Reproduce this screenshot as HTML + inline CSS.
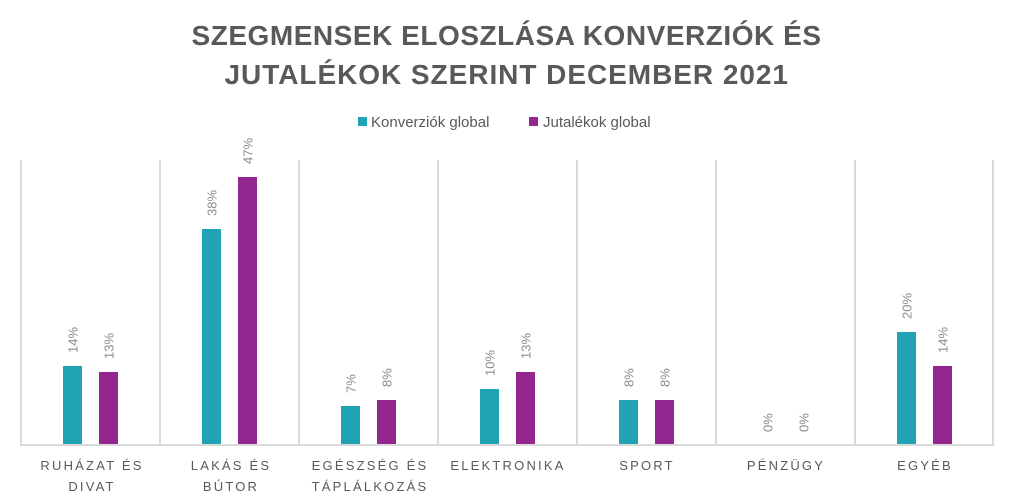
<!DOCTYPE html>
<html><head><meta charset="utf-8"><style>
html,body{margin:0;padding:0;background:#fff;}
svg{display:block;font-family:"Liberation Sans",sans-serif;}
</style></head><body>
<svg width="1014" height="502" viewBox="0 0 1014 502">
<g font-weight="bold" font-size="28" fill="#595959" text-anchor="middle" letter-spacing="1.5">
<text x="507" y="45" textLength="631" lengthAdjust="spacing">SZEGMENSEK ELOSZLÁSA KONVERZIÓK ÉS</text>
<text x="507" y="84" textLength="565" lengthAdjust="spacing">JUTALÉKOK SZERINT DECEMBER 2021</text>
</g>
<rect x="358" y="117" width="9" height="9" fill="#20a3b2"/>
<text x="371" y="127" font-size="15" fill="#595959">Konverziók global</text>
<rect x="529" y="117" width="9" height="9" fill="#93278f"/>
<text x="543" y="127" font-size="15" fill="#595959">Jutalékok global</text>
<g stroke="#d9d9d9" stroke-width="2">
<line x1="21" y1="160" x2="21" y2="445"/><line x1="160" y1="160" x2="160" y2="445"/>
<line x1="299" y1="160" x2="299" y2="445"/><line x1="438" y1="160" x2="438" y2="445"/>
<line x1="577" y1="160" x2="577" y2="445"/><line x1="716" y1="160" x2="716" y2="445"/>
<line x1="855" y1="160" x2="855" y2="445"/><line x1="993" y1="160" x2="993" y2="445"/>
<line x1="20" y1="445" x2="994" y2="445"/>
</g>
<g fill="#20a3b2">
<rect x="63" y="366" width="19" height="78"/>
<rect x="202" y="229" width="19" height="215"/>
<rect x="341" y="406" width="19" height="38"/>
<rect x="480" y="389" width="19" height="55"/>
<rect x="619" y="400" width="19" height="44"/>
<rect x="897" y="332" width="19" height="112"/>
</g>
<g fill="#93278f">
<rect x="99" y="372" width="19" height="72"/>
<rect x="238" y="177" width="19" height="267"/>
<rect x="377" y="400" width="19" height="44"/>
<rect x="516" y="372" width="19" height="72"/>
<rect x="655" y="400" width="19" height="44"/>
<rect x="933" y="366" width="19" height="78"/>
</g>
<g font-size="13" fill="#8c8c8c">
<text transform="translate(77.5,353) rotate(-90)">14%</text>
<text transform="translate(113.5,359) rotate(-90)">13%</text>
<text transform="translate(216.5,216) rotate(-90)">38%</text>
<text transform="translate(252.5,164) rotate(-90)">47%</text>
<text transform="translate(355.5,393) rotate(-90)">7%</text>
<text transform="translate(391.5,387) rotate(-90)">8%</text>
<text transform="translate(494.5,376) rotate(-90)">10%</text>
<text transform="translate(530.5,359) rotate(-90)">13%</text>
<text transform="translate(633.5,387) rotate(-90)">8%</text>
<text transform="translate(669.5,387) rotate(-90)">8%</text>
<text transform="translate(772.5,432) rotate(-90)">0%</text>
<text transform="translate(808.5,432) rotate(-90)">0%</text>
<text transform="translate(911.5,319) rotate(-90)">20%</text>
<text transform="translate(947.5,353) rotate(-90)">14%</text>
</g>
<g font-size="13" fill="#595959" text-anchor="middle" letter-spacing="2.2">
<text x="92" y="470">RUHÁZAT ÉS</text><text x="92" y="491">DIVAT</text>
<text x="231" y="470">LAKÁS ÉS</text><text x="231" y="491">BÚTOR</text>
<text x="370" y="470">EGÉSZSÉG ÉS</text><text x="370" y="491">TÁPLÁLKOZÁS</text>
<text x="508" y="470">ELEKTRONIKA</text>
<text x="647" y="470">SPORT</text>
<text x="786" y="470">PÉNZÜGY</text>
<text x="925" y="470">EGYÉB</text>
</g>
</svg>
</body></html>
